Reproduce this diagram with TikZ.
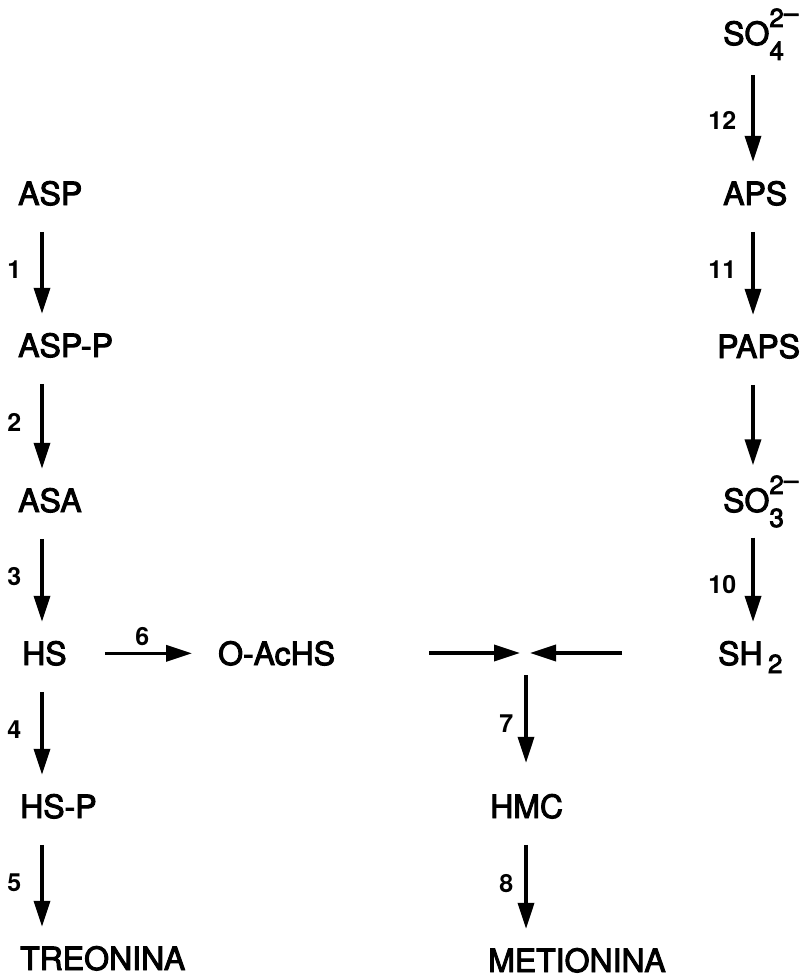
\documentclass[tikz,border=0pt]{standalone}
\usepackage{fontspec}
\setmainfont{TeX Gyre Heros}
\newfontfamily\metfont[FakeBold=3,Ligatures=TeX]{TeX Gyre Heros}
\usetikzlibrary{arrows.meta}
\tikzset{
	met/.style={anchor=base west, inner sep=0pt, font=\metfont\fontsize{32}{38}\selectfont},
	arr/.style={line width=3.5pt, -{Triangle[length=26pt,width=16pt]}, shorten <=26pt, shorten >=19pt},
	num/.style={inner sep=0pt, font=\fontsize{25}{29}\selectfont\bfseries},
}
\newcommand\ionSO[1]{SO\rlap{\raisebox{-15pt}{\fontsize{26}{30}\selectfont #1}}\raisebox{18pt}{\fontsize{26}{30}\selectfont 2\raisebox{5pt}{\textendash}}}

\begin{document}
\begin{tikzpicture}[x=1pt,y=-1pt]
			%%%%% START %%%%%
			\useasboundingbox (0,0) rectangle (807,979);
			
			\coordinate (cl) at (42,0);
			\coordinate (cm) at (526,0);
			\coordinate (cr) at (753,0);
			\coordinate (join) at (526,653);
			
			% sulfate branch
			\node[met] (so4) at (723,45) {\ionSO{4}};
			\node[met] (aps) at (723,205) {APS};
			\node[met] (paps) at (717,358) {PAPS};
			\node[met] (so3) at (723,512) {\ionSO{3}};
			\node[met] (sh2) at (718,665) {SH\,\raisebox{-8pt}{\fontsize{26}{30}\selectfont 2}};
			
			% aspartate branch
			\node[met] (asp) at (18,205) {ASP};
			\node[met] (aspp) at (18,357) {ASP-P};
			\node[met] (asa) at (18,512) {ASA};
			\node[met] (hs) at (22,665) {HS};
			\node[met] (oachs) at (218,665) {O-AcHS};
			\node[met] (hsp) at (20,818) {HS-P};
			\node[met] (treo) at (20,970) {TREONINA};
			
			\node[met] (hmc) at (490,818) {HMC};
			\node[met] (meti) at (488,972) {METIONINA};
			
			\draw[arr, shorten <=15pt] (so4.south -| cr) -- node[num, left=15pt] (n12) {12} (aps.north -| cr);
			\draw[arr] (aps.south -| cr) -- node[num, left=15pt] (n11) {11} (paps.north -| cr);
			\draw[arr, shorten >=10pt] (paps.south -| cr) -- (so3.north -| cr);
			\draw[arr, shorten <=10pt] (so3.south -| cr) -- node[num, left=15pt] (n10) {10} (sh2.north -| cr);
			
			\draw[arr] (asp.south -| cl) -- node[num, left=19pt] (n1) {1} (aspp.north -| cl);
			\draw[arr] (aspp.south -| cl) -- node[num, left=19pt] (n2) {2} (asa.north -| cl);
			\draw[arr] (asa.south -| cl) -- node[num, left=19pt] (n3) {3} (hs.north -| cl);
			\draw[arr] (hs.south -| cl) -- node[num, left=19pt] (n4) {4} (hsp.north -| cl);
			\draw[arr] (hsp.south -| cl) -- node[num, left=19pt] (n5) {5} (treo.north -| cl);
			
			\draw[arr, shorten <=38pt, shorten >=26pt] (hs.east) -- node[num, above=6pt] (n6) {6} (oachs.west);
			\draw[arr, shorten <=94pt, shorten >=6pt] (oachs.east |- join) -- (join);
			\draw[arr, shorten <=96pt, shorten >=4pt] (sh2.west |- join) -- (join);
			
			\draw[arr, shorten <=22pt, shorten >=31pt] (join) -- node[num, left=11pt] (n7) {7} (hmc.north -| cm);
			\draw[arr] (hmc.south -| cm) -- node[num, left=11pt] (n8) {8} (meti.north -| cm);
			%%%%% END %%%%%
\end{tikzpicture}
\end{document}
